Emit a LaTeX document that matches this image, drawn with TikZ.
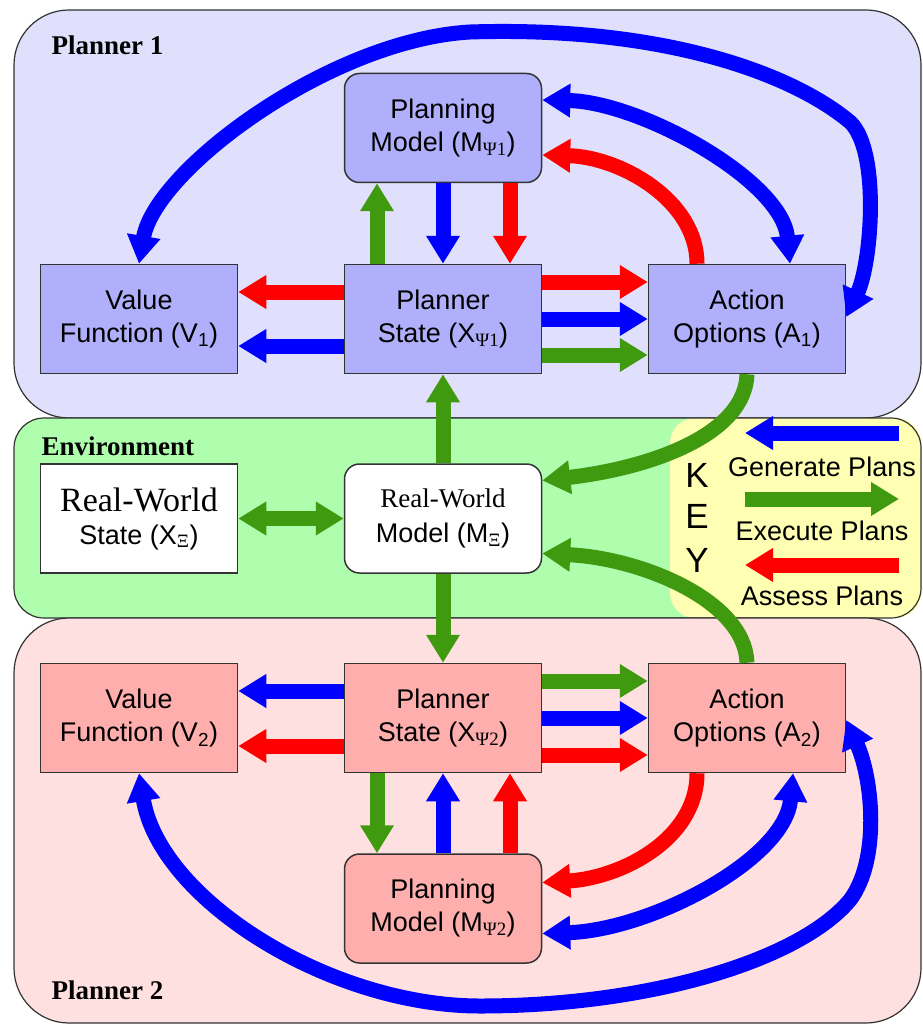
\documentclass[tikz,border=0pt]{standalone}
\usepackage{fontspec}
\setmainfont{Liberation Sans}
\newfontfamily\serifface{Liberation Serif}
\usetikzlibrary{arrows.meta}

\definecolor{pOneBg}{RGB}{224,224,252}
\definecolor{pOneBox}{RGB}{175,175,252}
\definecolor{envBg}{RGB}{174,254,174}
\definecolor{keyBg}{RGB}{255,255,180}
\definecolor{pTwoBg}{RGB}{255,224,224}
\definecolor{pTwoBox}{RGB}{255,174,174}
\definecolor{genBlue}{RGB}{0,0,255}
\definecolor{exeGreen}{RGB}{64,154,16}
\definecolor{assRed}{RGB}{255,0,0}
\definecolor{edgeGray}{RGB}{51,51,51}

\tikzset{bigtip/.tip={Triangle[width=32pt,length=28pt]}}

\begin{document}
\begin{tikzpicture}[x=1pt,y=-1pt,
  panel/.style={draw=edgeGray, line width=1.2pt},
  box/.style={draw=edgeGray, line width=1.5pt, minimum width=197pt, minimum height=109pt,
    inner sep=0pt, align=center, font=\fontsize{27}{33}\selectfont},
  rbox/.style={box, rounded corners=15pt},
  title/.style={anchor=base west, font=\serifface\bfseries\fontsize{27}{30}\selectfont},
  keytext/.style={anchor=base, font=\fontsize{27}{30}\selectfont},
  keyletter/.style={anchor=base, font=\fontsize{35}{38}\selectfont},
  flow/.style={line width=15pt, -bigtip},
  twoway/.style={line width=15pt, bigtip-bigtip},
  gen/.style={flow, draw=genBlue},
  gentwo/.style={twoway, draw=genBlue},
  exe/.style={flow, draw=exeGreen},
  exetwo/.style={twoway, draw=exeGreen},
  ass/.style={flow, draw=assRed}]

\useasboundingbox (0,0) rectangle (922,1024);
\fill[white] (0,0) rectangle (922,1024);

% panels
\filldraw[panel, fill=pOneBg, rounded corners=55pt] (14,10) rectangle (921,418);
\fill[envBg, rounded corners=30pt] (14,418) rectangle (921,618);
\fill[keyBg, rounded corners=25pt] (670,418) rectangle (921,618);
\draw[panel, rounded corners=30pt] (14,418) rectangle (921,618);
\filldraw[panel, fill=pTwoBg, rounded corners=55pt] (14,618) rectangle (921,1023);

\node[title] (t1) at (48,55) {Planner 1};
\node[title] (te) at (38,455) {Environment};
\node[title] (t2) at (48,999) {Planner 2};

% planner 1 blocks
\node[rbox, fill=pOneBox] (M1) at (443,128) {Planning\\Model (M\textsubscript{\serifface Ψ1})};
\node[box, fill=pOneBox] (V1) at (139,319) {Value\\Function (V\textsubscript{1})};
\node[box, fill=pOneBox] (X1) at (443,319) {Planner\\State (X\textsubscript{\serifface Ψ1})};
\node[box, fill=pOneBox] (A1) at (747,319) {Action\\Options (A\textsubscript{1})};

% environment blocks
\node[box, fill=white] (RWS) at (139,518.5) {{\serifface\fontsize{34}{36}\selectfont Real-World}\\[0pt]State (X\textsubscript{\serifface Ξ})};
\node[rbox, fill=white] (RWM) at (443,518.5) {{\serifface\fontsize{27}{30}\selectfont Real-World}\\[2pt]Model (M\textsubscript{\serifface Ξ})};

% planner 2 blocks
\node[box, fill=pTwoBox] (V2) at (139,718) {Value\\Function (V\textsubscript{2})};
\node[box, fill=pTwoBox] (X2) at (443,718) {Planner\\State (X\textsubscript{\serifface Ψ2})};
\node[box, fill=pTwoBox] (A2) at (747,718) {Action\\Options (A\textsubscript{2})};
\node[rbox, fill=pTwoBox] (M2) at (443,908.5) {Planning\\Model (M\textsubscript{\serifface Ψ2})};

% key
\node[keyletter] (kK) at (697,487) {K};
\node[keyletter] (kE) at (697,528) {E};
\node[keyletter] (kY) at (697,572) {Y};
\coordinate (kb1) at (899,433); \coordinate (kb2) at (745,433);
\coordinate (kg1) at (745,499); \coordinate (kg2) at (899,499);
\coordinate (kr1) at (899,565); \coordinate (kr2) at (745,565);
\draw[gen] (kb1) -- (kb2);
\draw[exe] (kg1) -- (kg2);
\draw[ass] (kr1) -- (kr2);
\node[keytext] (lg) at (822,476) {Generate Plans};
\node[keytext] (lx) at (822,540) {Execute Plans};
\node[keytext] (la) at (822,605) {Assess Plans};

% planner 1 flows
\draw[exe] ([xshift=-66pt]X1.north) -- ([xshift=-66pt]M1.south);
\draw[gen] (M1.south) -- (X1.north);
\draw[ass] ([xshift=67pt]M1.south) -- ([xshift=67pt]X1.north);
\draw[ass] ([yshift=27pt]X1.west) -- ([yshift=27pt]V1.east);
\draw[gen] ([yshift=-27pt]X1.west) -- ([yshift=-27pt]V1.east);
\draw[ass] ([yshift=37pt]X1.east) -- ([yshift=37pt]A1.west);
\draw[gen] (X1.east) -- (A1.west);
\draw[exe] ([yshift=-36pt]X1.east) -- ([yshift=-36pt]A1.west);
\draw[ass] ([xshift=-50pt]A1.north) .. controls (697,200) and (620,157) .. ([yshift=-27pt]M1.east);
\draw[gentwo] ([yshift=28pt]M1.east) .. controls (640,102) and (782,180) .. ([xshift=43pt]A1.north);
\draw[gentwo] (V1.north) .. controls (155,170) and (330,40) .. (470,32)
  .. controls (660,26) and (790,72) .. (850,122)
  .. controls (880,150) and (872,262) .. ([yshift=2pt]A1.east);

% environment flows
\draw[exe] (RWM.north) -- (X1.south);
\draw[exe] (RWM.south) -- (X2.north);
\draw[exetwo] (RWS.east) -- (RWM.west);
\draw[exe] (A1.south) .. controls (745,435) and (650,468) .. ([yshift=38pt]RWM.east);
\draw[exe] (A2.north) .. controls (745,600) and (640,558) .. ([yshift=-35pt]RWM.east);

% planner 2 flows
\draw[exe] ([xshift=-66pt]X2.south) -- ([xshift=-66pt]M2.north);
\draw[gen] (M2.north) -- (X2.south);
\draw[ass] ([xshift=67pt]M2.north) -- ([xshift=67pt]X2.south);
\draw[gen] ([yshift=27pt]X2.west) -- ([yshift=27pt]V2.east);
\draw[ass] ([yshift=-28pt]X2.west) -- ([yshift=-28pt]V2.east);
\draw[exe] ([yshift=37pt]X2.east) -- ([yshift=37pt]A2.west);
\draw[gen] (X2.east) -- (A2.west);
\draw[ass] ([yshift=-37pt]X2.east) -- ([yshift=-37pt]A2.west);
\draw[ass] ([xshift=-50pt]A2.south) .. controls (697,840) and (620,878) .. ([yshift=26pt]M2.east);
\draw[gentwo] ([yshift=-25pt]M2.east) .. controls (650,930) and (785,860) .. ([xshift=46pt]A2.south);
\draw[gentwo] (V2.south) .. controls (160,900) and (330,1006) .. (480,1006)
  .. controls (650,1006) and (800,960) .. (850,900)
  .. controls (880,860) and (873,780) .. ([yshift=-2pt]A2.east);

\end{tikzpicture}
\end{document}
